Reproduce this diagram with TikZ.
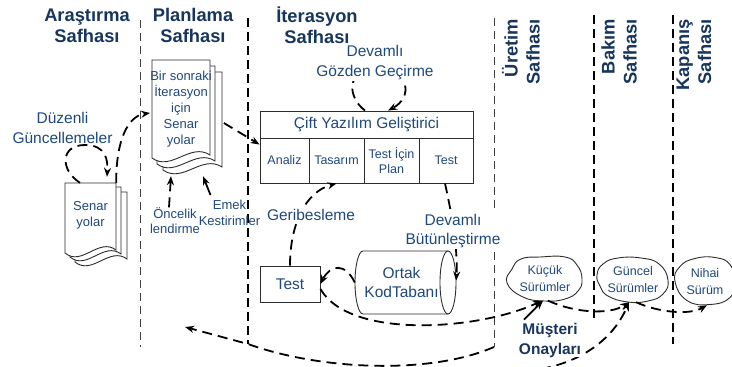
\documentclass[tikz,border=0pt]{standalone}
\usepackage{fontspec}
\setmainfont{Liberation Sans}
\usetikzlibrary{arrows.meta}

\definecolor{titleblue}{RGB}{23,54,93}
\definecolor{textblue}{RGB}{31,73,125}
\definecolor{edgegray}{RGB}{45,45,45}

\tikzset{
  phasetitle/.style={font=\fontsize{18.3}{21}\selectfont\bfseries, text=titleblue, align=center, inner sep=0pt},
  vtitle/.style={font=\fontsize{18.3}{22}\selectfont\bfseries, text=titleblue, align=right, inner sep=0pt, rotate=90, anchor=east},
  lbl/.style={font=\fontsize{15.5}{19.5}\selectfont, text=textblue, align=center, inner sep=1pt},
  boldlbl/.style={font=\fontsize{15.5}{20}\selectfont\bfseries, text=titleblue, align=center, inner sep=0pt},
  cover/.style={fill=white},
  smalltxt/.style={font=\fontsize{13}{16}\selectfont, text=textblue, align=center, inner sep=0pt},
  releasetxt/.style={font=\fontsize{12.5}{17}\selectfont, text=textblue, align=center, inner sep=0pt},
  thinphase/.style={line width=1pt, draw=black!75, dash pattern=on 8pt off 5pt},
  thickphase/.style={line width=1.8pt, dash pattern=on 9pt off 5pt},
  flow/.style={line width=1.8pt, dash pattern=on 10pt off 6pt, -{Stealth[length=9pt,width=7pt]}},
  solidflow/.style={line width=1.8pt, -{Stealth[length=9pt,width=7pt]}},
  page/.style={draw=edgegray, line width=0.9pt, fill=white},
  cell/.style={draw=edgegray, line width=0.9pt, inner sep=0pt, text=textblue, align=center,
    font=\fontsize{12.5}{15}\selectfont},
  blob/.style={draw=edgegray, line width=0.9pt, fill=white},
  pics/sheet/.style 2 args={code={
    \draw[page] (0,0) -- (#1,0) -- (#1,#2-3)
      .. controls (0.66*#1,#2-16) and (0.33*#1,#2+14) .. (0,#2) -- cycle;
  }},
}

\begin{document}
\begin{tikzpicture}[x=1pt,y=-1pt]
\useasboundingbox[fill=white] (0,0) rectangle (732,367);

% phase separators
\draw[thinphase]  (140,20) -- (140,347);
\draw[thickphase] (248,18) -- (248,344);
\draw[thinphase]  (494,18) -- (494,347);
\draw[thickphase] (594,15) -- (594,318);
\draw[thickphase] (673,15) -- (673,344);

% phase titles
\node[phasetitle] (t1) at (87,25.5)  {Araştırma\\Safhası};
\node[phasetitle] (t2) at (193,25.5) {Planlama\\Safhası};
\node[phasetitle] (t3) at (317,25.5) {İterasyon\\Safhası};
\node[vtitle] (t4) at (521,19) {Üretim\\Safhası};
\node[vtitle] (t5) at (619,19) {Bakım\\Safhası};
\node[vtitle] (t6) at (694,19) {Kapanış\\Safhası};

% scenario stack of the research phase
\pic at (75,192) {sheet={52}{70}};
\pic at (70,187) {sheet={51}{70}};
\pic at (65,183) {sheet={51}{70}};
\node[smalltxt, minimum width=51pt, minimum height=64pt] (resdoc) at (90.5,215) {Senar\\yolar};

% scenario stack of the planning phase
\pic at (163,72) {sheet={59}{98}};
\pic at (157,66) {sheet={58}{98}};
\pic at (152,60) {sheet={58}{98}};
\node[smalltxt, minimum width=58pt, minimum height=98pt] (plandoc) at (181,109)
  {Bir sonraki\\İterasyon\\için\\Senar\\yolar};

% pair programming block
\node[cell, minimum width=213pt, minimum height=27pt, font=\fontsize{15.5}{18}\selectfont] (cift) at (366.5,124.5) {Çift Yazılım Geliştirici};
\node[cell, minimum width=49pt, minimum height=45pt] (analiz)   at (284.5,160.5) {Analiz};
\node[cell, minimum width=55pt, minimum height=45pt] (tasarim)  at (336.5,160.5) {Tasarım};
\node[cell, minimum width=55pt, minimum height=45pt] (plan)     at (391.5,160.5) {Test İçin\\Plan};
\node[cell, minimum width=54pt, minimum height=45pt] (testcell) at (446,160.5) {Test};

% test box
\node[cell, minimum width=60pt, minimum height=36pt, font=\fontsize{15.5}{18}\selectfont] (test) at (290,284) {Test};

% shared code base (horizontal cylinder)
\draw[page] (363,251) arc[start angle=90, end angle=270, x radius=8pt, y radius=31.5pt]
  -- (448,314) -- (448,251) -- cycle;
\draw[page] (448,282.5) ellipse[x radius=8pt, y radius=31.5pt];
\node[lbl, inner sep=0pt, minimum width=93pt, minimum height=63pt] (kod) at (401.5,282.5) {Ortak\\KodTabanı};

% releases
\draw[blob, shift={(545,279)}] plot[smooth cycle, tension=0.8] coordinates
  {(-38,4) (-33,-10) (-24,-20) (-5,-22) (20,-22) (32,-14) (37,0) (33,12) (20,20) (0,22) (-22,18)};
\node[releasetxt, minimum width=75pt, minimum height=43pt] (kucuk) at (545,279) {Küçük\\Sürümler};
\draw[blob, shift={(633,280)}] plot[smooth cycle, tension=0.8] coordinates
  {(-36,-5) (-30,-16) (-15,-22) (8,-22) (26,-16) (35,0) (30,14) (15,21) (-5,22) (-25,16) (-33,6)};
\node[releasetxt, minimum width=70pt, minimum height=44pt] (guncel) at (633,280) {Güncel\\Sürümler};
\draw[blob, shift={(705,281.5)}] plot[smooth cycle, tension=0.8] coordinates
  {(-30,0) (-25,-15) (-10,-23) (10,-24) (25,-17) (29,0) (25,16) (5,23) (-18,19)};
\node[releasetxt, minimum width=58pt, minimum height=47pt] (nihai) at (705,281.5) {Nihai\\Sürüm};

% plain labels
\node[smalltxt, font=\fontsize{13}{15}\selectfont] (oncelik) at (175,220.5) {Öncelik\\lendirme};
\node[smalltxt] (emek) at (229.5,213) {Emek\\Kestirimler};

% free ends of the long return flow
\coordinate (approval)   at (525,371);
\coordinate (prodfoot)   at (494,347);
\coordinate (iterfoot)   at (248,344);
\coordinate (planreturn) at (185,327);

% connectors
\draw[flow] ([xshift=-10.5pt]resdoc.north) .. controls (60,170) and (60,145) .. (85,145)
  .. controls (106,145) and (108,160) .. ([xshift=16.5pt,yshift=6pt]resdoc.north);
\draw[flow] (resdoc.north east) .. controls (116,140) and (128,116) .. ([yshift=-4pt]plandoc.west);
\draw[flow] ([xshift=12pt,yshift=-14pt]plandoc.east) -- ([yshift=-7pt]analiz.north west);
\draw[flow] ([xshift=-6pt]oncelik.north) -- ([xshift=-10pt,yshift=-18pt]plandoc.south);
\draw[solidflow] ([xshift=-19pt,yshift=5pt]emek.north) -- ([xshift=22pt,yshift=-18pt]plandoc.south);

\draw[flow] ([xshift=-1.5pt]cift.north) .. controls (348,98) and (345,70) .. (375,70)
  .. controls (412,70) and (412,98) .. ([xshift=21.5pt]cift.north);
\draw[flow] (test.north) .. controls (290,225) and (305,192) .. (tasarim.south);
\draw[flow] ([xshift=-1pt]testcell.south) .. controls (452,215) and (458,250) .. ([xshift=8pt,yshift=2pt]kod.east);
\draw[flow] (kod.west) .. controls (345,262) and (330,265) .. (test.east);
\draw[flow] ([yshift=-5pt]test.east) .. controls (350,340) and (480,330) .. ([xshift=-3pt]kucuk.south);

\draw[flow] ([xshift=3pt]kucuk.south) .. controls (575,313) and (610,315) .. ([xshift=-4pt]guncel.south);
\draw[flow] ([xshift=3pt]guncel.south) .. controls (660,313) and (690,315) .. ([xshift=2pt]nihai.south);
\draw[flow] (approval) .. controls (575,367) and (612,342) .. ([xshift=-4pt]guncel.south);
\draw[flow] (prodfoot) .. controls (430,375) and (320,370) .. (iterfoot) -- (planreturn);

% labels lying over their connectors
\node[boldlbl, cover] (musteri) at (550,340) {Müşteri\\Onayları};
\draw[solidflow] ([xshift=-26pt,yshift=3pt]musteri.north) -- ([xshift=-2pt]kucuk.south);
\node[lbl, cover] (duzenli) at (62.5,128) {Düzenli\\Güncellemeler};
\node[lbl, cover] (devamli) at (375,62.5) {Devamlı\\Gözden Geçirme};
\node[lbl, cover] (geri) at (311,215) {Geribesleme};
\node[lbl, cover] (butun) at (453,231) {Devamlı\\Bütünleştirme};
\end{tikzpicture}
\end{document}
